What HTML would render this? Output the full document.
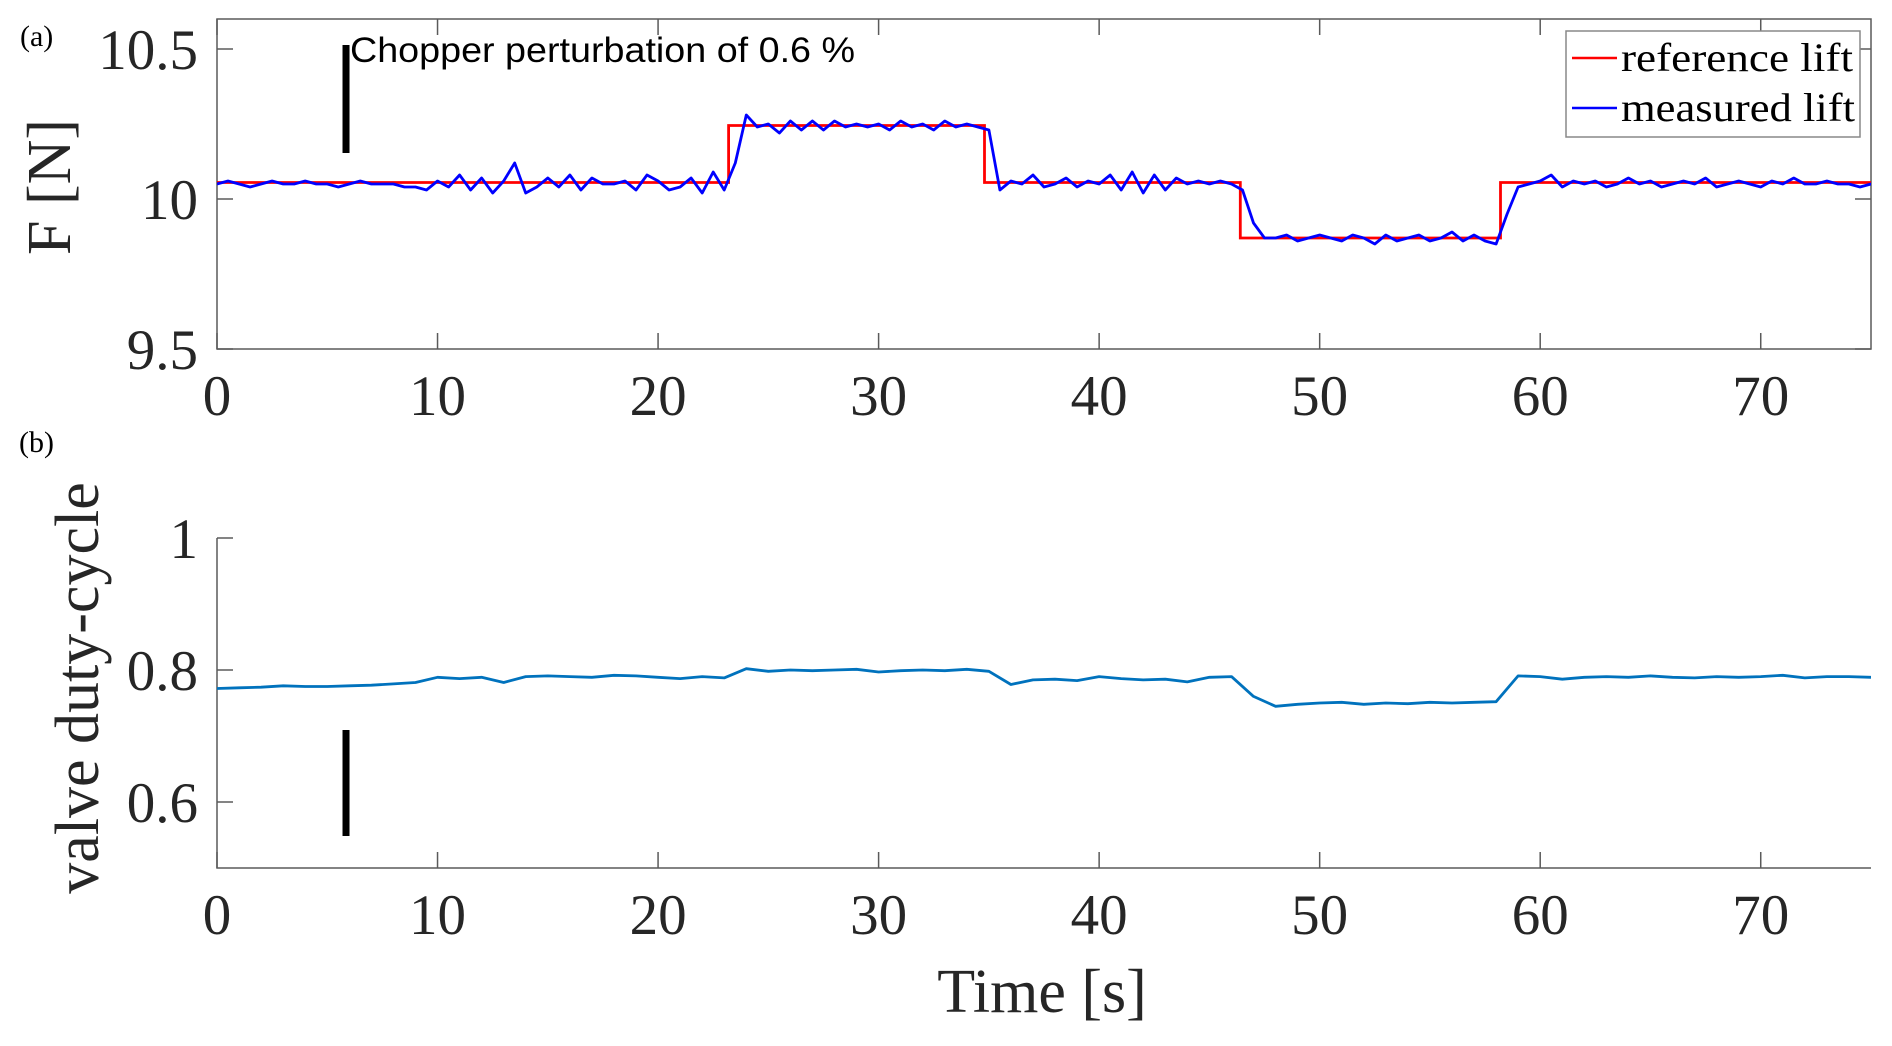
<!DOCTYPE html>
<html><head><meta charset="utf-8"><style>
html,body{margin:0;padding:0;background:#fff;}
svg{display:block;}
.tk{font-family:"Liberation Serif",serif;font-size:57px;fill:#262626;}
</style></head><body>
<svg id="fig" width="1892" height="1046" viewBox="0 0 1892 1046" xmlns="http://www.w3.org/2000/svg">
<defs><clipPath id="clipTop"><rect x="217" y="19" width="1654" height="330"/></clipPath>
<clipPath id="clipBot"><rect x="217" y="538" width="1654" height="330"/></clipPath></defs>
<g id="topPanel"></g>
<g id="botPanel"></g>
<text x="20" y="46" font-family="Liberation Serif, serif" font-size="30" fill="#000">(a)</text>
<text x="19" y="452" font-family="Liberation Serif, serif" font-size="30" fill="#000">(b)</text>
<text transform="translate(70,187) rotate(-90)" text-anchor="middle" font-family="Liberation Serif, serif" font-size="62" fill="#262626">F [N]</text>
<text transform="translate(98,688) rotate(-90)" text-anchor="middle" font-family="Liberation Serif, serif" font-size="62" fill="#262626">valve duty-cycle</text>
<text x="1042" y="1012" text-anchor="middle" font-family="Liberation Serif, serif" font-size="62" fill="#262626">Time [s]</text>
<text x="350" y="62" font-family="Liberation Sans, sans-serif" font-size="35" fill="#000" textLength="505" lengthAdjust="spacingAndGlyphs">Chopper perturbation of 0.6 %</text>
<g>
<rect x="1566" y="31" width="294" height="106" fill="#fff" stroke="#888" stroke-width="1.5"/>
<line x1="1572" y1="58" x2="1617" y2="58" stroke="#ff0000" stroke-width="2.5"/>
<text x="1621" y="71" font-family="Liberation Serif, serif" font-size="40" fill="#000" textLength="232" lengthAdjust="spacingAndGlyphs">reference lift</text>
<line x1="1572" y1="108" x2="1617" y2="108" stroke="#0000ff" stroke-width="2.5"/>
<text x="1621" y="121" font-family="Liberation Serif, serif" font-size="40" fill="#000" textLength="234" lengthAdjust="spacingAndGlyphs">measured lift</text>
</g>
</svg>
<script>
const xTicks=[0,10,20,30,40,50,60,70];
const fTicks=[9.5,10,10.5];
const fTickLabels=["9.5","10","10.5"];
const dTicks=[0.6,0.8,1];
const dTickLabels=["0.6","0.8","1"];
const refTimes=[0,23.2,23.2,34.8,34.8,46.4,46.4,58.2,58.2,75];
const refValues=[10.055,10.055,10.245,10.245,10.055,10.055,9.87,9.87,10.055,10.055];
const measDt=0.5;
const measValues=[10.05,10.06,10.05,10.04,10.05,10.06,10.05,10.05,10.06,10.05,10.05,10.04,10.05,10.06,10.05,10.05,10.05,10.04,
10.04,10.03,10.06,10.04,10.08,10.03,10.07,10.02,10.06,10.12,10.02,10.04,10.07,10.04,10.08,10.03,10.07,10.05,10.05,10.06,10.03,10.08,10.06,10.03,10.04,10.07,10.02,10.09,10.03,10.12,
10.28,10.24,10.25,10.22,10.26,10.23,10.26,10.23,10.26,10.24,10.25,10.24,10.25,10.23,10.26,10.24,10.25,10.23,10.26,10.24,10.25,10.24,10.23,
10.03,10.06,10.05,10.08,10.04,10.05,10.07,10.04,10.06,10.05,10.08,10.03,10.09,10.02,10.08,10.03,10.07,10.05,10.06,10.05,10.06,10.05,10.03,
9.92,9.87,9.87,9.88,9.86,9.87,9.88,9.87,9.86,9.88,9.87,9.85,9.88,9.86,9.87,9.88,9.86,9.87,9.89,9.86,9.88,9.86,9.85,
9.95,10.04,10.05,10.06,10.08,10.04,10.06,10.05,10.06,10.04,10.05,10.07,10.05,10.06,10.04,10.05,10.06,10.05,10.07,10.04,10.05,10.06,10.05,10.04,10.06,10.05,10.07,10.05,10.05,10.06,10.05,10.05,10.04,10.05,10.05];
const dutyDt=1;
const dutyValues=[.772,.773,.774,.776,.775,.775,.776,.777,.779,.781,.789,.787,.789,.781,.79,.791,.79,.789,.792,.791,.789,.787,.79,.788,.802,.798,.8,.799,.8,.801,.797,.799,.8,.799,.801,.798,.778,.785,.786,.784,.79,.787,.785,.786,.782,.789,.79,.76,.745,.748,.75,.751,.748,.75,.749,.751,.75,.751,.752,.791,.79,.786,.789,.79,.789,.791,.789,.788,.79,.789,.79,.792,.788,.79,.79,.789];
const chopperTime=5.85;

const NS="http://www.w3.org/2000/svg";
const X0=217,X1=1871,XMAX=75;
const sx=t=>X0+(X1-X0)*t/XMAX;
const TP={y0:349,y1:19,min:9.5,max:10.6};
const BP={y0:868,y1:538,min:0.5,max:1};
const sy=(p,v)=>p.y0+(p.y1-p.y0)*(v-p.min)/(p.max-p.min);
function mk(par,tag,at){const e=document.createElementNS(NS,tag);for(const k in at)e.setAttribute(k,at[k]);par.appendChild(e);return e;}
const gTop=document.getElementById('topPanel'),gBot=document.getElementById('botPanel');
const ax="#5a5a5a";
let r=mk(gTop,'rect',{x:X0,y:TP.y1,width:X1-X0,height:TP.y0-TP.y1,fill:'none',stroke:ax,'stroke-width':1.5});


let l=mk(gBot,'path',{d:`M${X0} ${BP.y1} V${BP.y0} H${X1}`,fill:'none',stroke:ax,'stroke-width':1.5});


xTicks.forEach(t=>{
  const x=sx(t);
  [[gTop,TP,true],[gBot,BP,false]].forEach(([g,p,both])=>{
    let tk=mk(g,'line',{x1:x,x2:x,y1:p.y0,y2:p.y0-16,stroke:ax,'stroke-width':1.5});
    
    
    if(both){let t2=mk(g,'line',{x1:x,x2:x,y1:p.y1,y2:p.y1+16,stroke:ax,'stroke-width':1.5});
      
      }
    let lb=mk(g,'text',{x:x,y:p.y0+66,'text-anchor':'middle',class:'tk'});
    lb.textContent=String(t);
    
    
  });
});
function yt(g,p,vals,labs,right){
  vals.forEach((v,i)=>{const y=sy(p,v);
    let tk=mk(g,'line',{x1:X0,x2:X0+16,y1:y,y2:y,stroke:ax,'stroke-width':1.5});
    
    
    if(right){let t2=mk(g,'line',{x1:X1,x2:X1-16,y1:y,y2:y,stroke:ax,'stroke-width':1.5});
      
      }
    let lb=mk(g,'text',{x:X0-19,y:y+20,'text-anchor':'end',class:'tk'});
    lb.textContent=labs[i];
    
    
  });
}
yt(gTop,TP,fTicks,fTickLabels,true);
yt(gBot,BP,dTicks,dTickLabels,false);
function poly(ts,vs,p){return ts.map((t,i)=>sx(t).toFixed(1)+','+sy(p,vs[i]).toFixed(1)).join(' ');}
let ref=mk(gTop,'polyline',{points:poly(refTimes,refValues,TP),fill:'none',stroke:'#ff0000','stroke-width':2.8,'clip-path':'url(#clipTop)'});


let mt=measValues.map((v,i)=>i*measDt);
let meas=mk(gTop,'polyline',{points:poly(mt,measValues,TP),fill:'none',stroke:'#0000ff','stroke-width':2.8,'stroke-linejoin':'round','clip-path':'url(#clipTop)'});


let dtt=dutyValues.map((v,i)=>i*dutyDt);
let du=mk(gBot,'polyline',{points:poly(dtt,dutyValues,BP),fill:'none',stroke:'#0072BD','stroke-width':2.8,'stroke-linejoin':'round','clip-path':'url(#clipBot)'});


let c1=mk(gTop,'line',{x1:sx(chopperTime),x2:sx(chopperTime),y1:45,y2:153,stroke:'#000','stroke-width':7});


let c2=mk(gBot,'line',{x1:sx(chopperTime),x2:sx(chopperTime),y1:730,y2:836,stroke:'#000','stroke-width':7});


</script>
</body></html>
